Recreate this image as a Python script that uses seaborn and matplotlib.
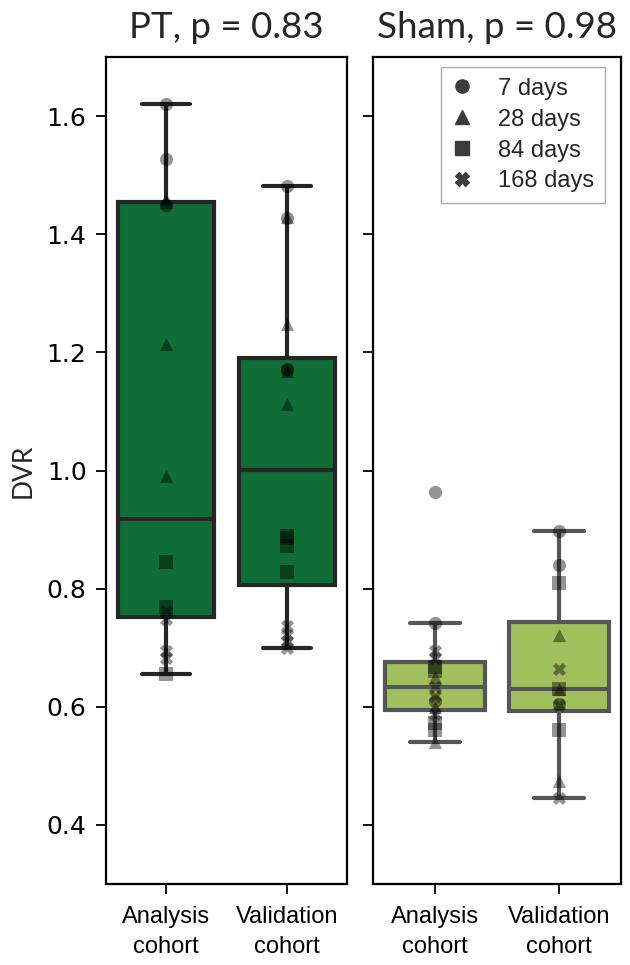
import numpy as np
import pandas as pd
import matplotlib
matplotlib.use("Agg")
import matplotlib.pyplot as plt
import seaborn as sns
from matplotlib.lines import Line2D

# ---------------- data ----------------
cohorts = ["Analysis cohort", "Validation cohort"]
cohort_labels = ["Analysis\ncohort", "Validation\ncohort"]
timepoints = ["7 days", "28 days", "84 days", "168 days"]
markers = ["o", "^", "s", "X"]
titles = ["PT, p = 0.83", "Sham, p = 0.98"]

# PT group, analysis cohort
pt_ana_7 = [1.620, 1.527, 1.450]
pt_ana_28 = [1.460, 1.455, 1.214, 0.990]
pt_ana_84 = [0.846, 0.769, 0.655]
pt_ana_168 = [0.762, 0.748, 0.695, 0.683]
# PT group, validation cohort
pt_val_7 = [1.481, 1.427, 1.172, 1.170]
pt_val_28 = [1.248, 1.169, 1.113, 1.430]
pt_val_84 = [0.890, 0.885, 0.873, 0.829]
pt_val_168 = [0.737, 0.722, 0.712, 0.700]
# Sham group, analysis cohort
sh_ana_7 = [0.963, 0.742, 0.610]
sh_ana_28 = [0.650, 0.600, 0.541]
sh_ana_84 = [0.668, 0.660, 0.572, 0.560]
sh_ana_168 = [0.695, 0.683, 0.634, 0.618, 0.588]
# Sham group, validation cohort
sh_val_7 = [0.897, 0.840, 0.605]
sh_val_28 = [0.721, 0.630, 0.475]
sh_val_84 = [0.810, 0.630, 0.560]
sh_val_168 = [0.664, 0.603, 0.445]

pt_color = "#116d37"
sham_color = "#a2bf5e"


def build(groups):
    rows = []
    for cohort, lists in zip(cohorts, groups):
        for t, vals in zip(timepoints, lists):
            for v in vals:
                rows.append({"cohort": cohort, "time": t, "DVR": v})
    return pd.DataFrame(rows)


pt_df = build([[pt_ana_7, pt_ana_28, pt_ana_84, pt_ana_168],
               [pt_val_7, pt_val_28, pt_val_84, pt_val_168]])
sham_df = build([[sh_ana_7, sh_ana_28, sh_ana_84, sh_ana_168],
                 [sh_val_7, sh_val_28, sh_val_84, sh_val_168]])

# ---------------- plot ----------------
sns.set_theme(style="white")
plt.rcParams["font.family"] = ["DejaVu Sans"]

fig = plt.figure(figsize=(6.3, 9.65), dpi=100)
ax1 = fig.add_axes([0.1683, 0.0839, 0.3825, 0.857])
ax2 = fig.add_axes([0.592, 0.0839, 0.3937, 0.857], sharey=ax1)

for ax, df, color, title in [(ax1, pt_df, pt_color, titles[0]),
                             (ax2, sham_df, sham_color, titles[1])]:
    sns.boxplot(data=df, x="cohort", y="DVR", order=cohorts, color=color,
                saturation=1, width=0.8, linewidth=3.0, showfliers=False, ax=ax)
    for t, m in zip(timepoints, markers):
        sub = df[df["time"] == t]
        sns.stripplot(data=sub, x="cohort", y="DVR", order=cohorts, jitter=False,
                      marker=m, color="black", alpha=0.42, size=9.5, ax=ax, zorder=3)
    ax.set_xlim(-0.5, 1.5)
    ax.set_ylim(0.3, 1.7)
    ax.set_yticks([0.4, 0.6, 0.8, 1.0, 1.2, 1.4, 1.6])
    ax.set_xticks([0, 1])
    ax.set_xticklabels(cohort_labels, fontfamily="Liberation Sans", fontsize=17,
                       linespacing=1.45)
    ax.set_xlabel("")
    ax.set_title(title, fontfamily="Lato", fontsize=26.5, pad=14)
    for sp in ax.spines.values():
        sp.set_visible(True)
        sp.set_color("black")
        sp.set_linewidth(1.6)
    ax.tick_params(axis="both", direction="out", length=7, width=1.3,
                   left=True, bottom=True, colors="black", pad=7)
    ax.tick_params(axis="x", pad=9)
    ax.tick_params(axis="y", labelsize=18)

ax1.set_ylabel("DVR", fontfamily="Lato", fontsize=19, labelpad=8)
ax2.set_ylabel("")
ax2.tick_params(axis="y", labelleft=False)

handles = [Line2D([], [], marker=m, linestyle="", color="#3c3c3c", markersize=9.5)
           for m in markers]
ax2.legend(handles, timepoints, loc="upper right", bbox_to_anchor=(0.935, 0.988),
           borderaxespad=0, frameon=True, fancybox=False, edgecolor="#aaaaaa",
           framealpha=1, prop={"family": "Liberation Sans", "size": 17},
           handletextpad=1.15, labelspacing=0.38, borderpad=0.45, handlelength=0.8)

fig.savefig("out.png", dpi=100)
